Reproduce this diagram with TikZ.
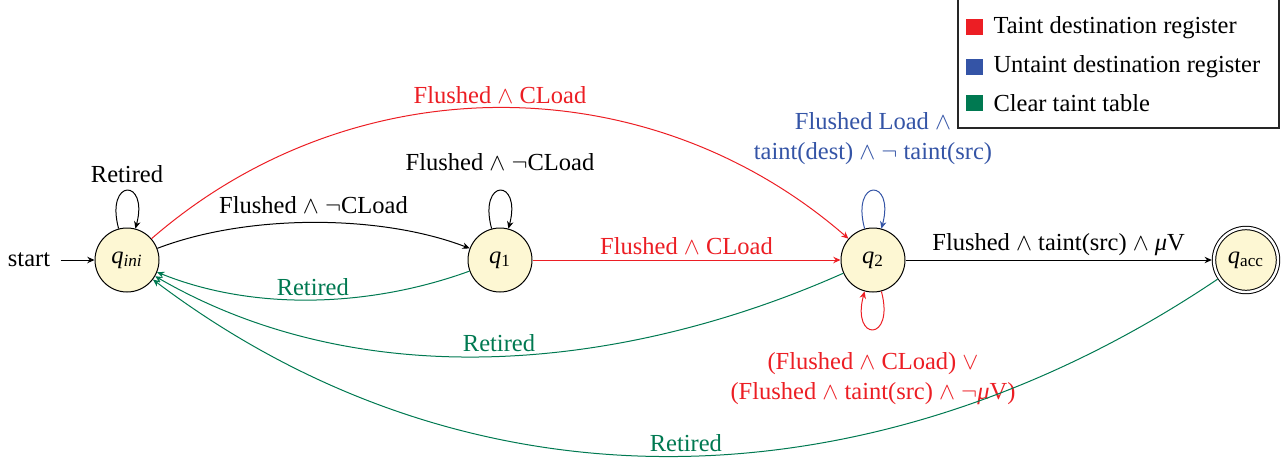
\documentclass[tikz,border=0pt]{standalone}
\usepackage{fontspec}
\setmainfont{Liberation Serif}
\usetikzlibrary{arrows.meta}
\definecolor{tred}{RGB}{236,30,36}
\definecolor{tblue}{RGB}{52,84,166}
\definecolor{tgreen}{RGB}{0,121,81}
\definecolor{statefill}{RGB}{253,247,211}
\newcommand\qst[1]{\textit{q}\textsubscript{#1}}
\begin{document}
\begin{tikzpicture}[x=0.5pt,y=0.5pt,
  font=\fontsize{12.25}{15}\selectfont,
  line width=0.5pt,
  >={Stealth[length=3.6pt,width=3.2pt]},
  stnode/.style={circle,draw,fill=statefill,minimum size=32pt,inner sep=0pt},
  accnode/.style={stnode,double,double distance=1.2pt,outer sep=1.1pt},
  lbl/.style={inner sep=2pt},
  legsq/.style={minimum width=8.5pt,minimum height=8pt,inner sep=0pt},
  legtxt/.style={anchor=base west,inner sep=0pt}]
\useasboundingbox (0,0) rectangle (1287,-461);

% states
\node[stnode] (qini) at (127,-260) {\qst{\textit{ini}}};
\node[stnode] (q1) at (500,-260) {\qst{1}};
\node[stnode] (q2) at (873,-260) {\qst{2}};
\node[accnode] (qacc) at (1246,-260) {\qst{acc}};

% initial arrow
\node[inner sep=0pt,inner xsep=5pt] (start) at (29,-260) {start};
\draw[->] (start) -- (qini);

% self loops
\draw[->] (qini) to[loop above] node[lbl,above=1.5pt] (lret0) {Retired} ();
\draw[->] (q1) to[loop above] node[lbl,above=7.5pt] (lfl1) {Flushed $\wedge$ $\neg$CLoad} ();
\draw[tblue,->] (q2) to[loop above]
  node[lbl,above=10.5pt,align=center] (lunt) {Flushed Load $\wedge$\\taint(dest) $\wedge$ $\neg$ taint(src)} ();
\draw[tred,->] (q2) to[loop below]
  node[lbl,below=9.5pt,align=center] (ltnt) {(Flushed $\wedge$ CLoad) $\vee$\\(Flushed $\wedge$ taint(src) $\wedge$ $\neg$\textit{μ}V)} ();

% forward transitions
\draw[->] (qini.21) .. controls +(21:96) and +(159:96) .. (q1.159)
  node[midway,lbl,above=2pt] (lfl0) {Flushed $\wedge$ $\neg$CLoad};
\draw[tred,->] (qini.41) .. controls +(41:266) and +(139:266) .. (q2.139)
  node[midway,lbl,above] (lcl0) {Flushed $\wedge$ CLoad};
\draw[tred,->] (q1) -- (q2)
  node[midway,lbl,above=0.5pt] (lcl1) {Flushed $\wedge$ CLoad};
\draw[->] (q2) -- (qacc)
  node[midway,lbl,above] (lacc) {Flushed $\wedge$ taint(src) $\wedge$ \textit{μ}V};

% retire transitions back to the initial state
\draw[tgreen,->] (q1.200) .. controls +(200:105) and +(-22:105) .. (qini.-22)
  node[midway,lbl,above] (lret1) {Retired};
\draw[tgreen,->] (q2.204) .. controls +(204:233) and +(-30:245) .. (qini.-30)
  node[midway,lbl,above] (lret2) {Retired};
\draw[tgreen,->] (qacc.214) .. controls +(214:397) and +(-37:414) .. (qini.-37)
  node[midway,lbl,above] (lret3) {Retired};

% legend
\draw[line width=0.6pt,black!85] (958,6) rectangle (1279,-128);
\node[legsq,fill=tred] (sq1) at (974.5,-27) {};
\node[legtxt] (tx1) at (993,-33) {Taint destination register};
\node[legsq,fill=tblue] (sq2) at (974.5,-66.5) {};
\node[legtxt] (tx2) at (993,-72) {Untaint destination register};
\node[legsq,fill=tgreen] (sq3) at (974.5,-102.5) {};
\node[legtxt] (tx3) at (993,-111) {Clear taint table};
\end{tikzpicture}
\end{document}
